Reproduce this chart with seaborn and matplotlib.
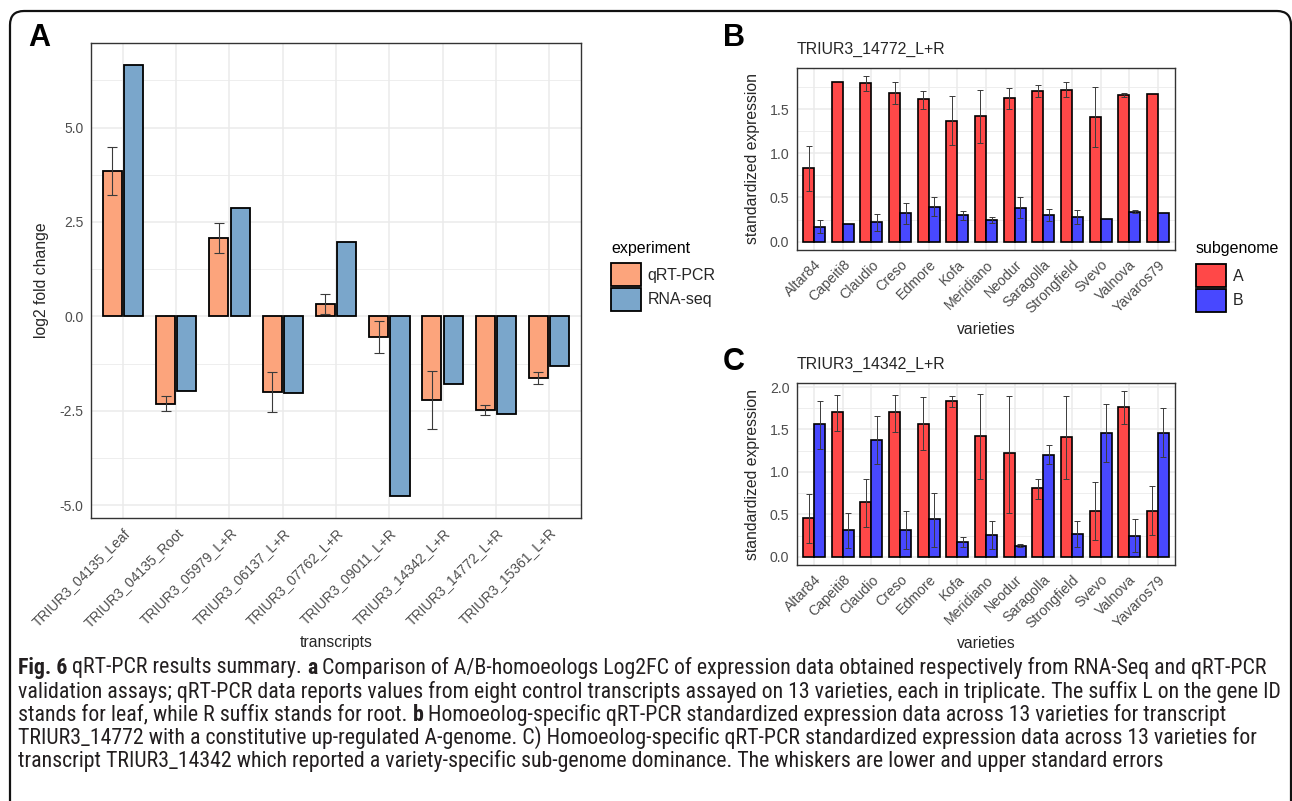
import numpy as np
import pandas as pd
import matplotlib
matplotlib.use("Agg")
import matplotlib.pyplot as plt
import seaborn as sns
from matplotlib.patches import Patch, FancyBboxPatch
from matplotlib.transforms import IdentityTransform
from matplotlib.ticker import FixedLocator
from matplotlib import font_manager
from matplotlib.font_manager import FontProperties

# ---------------- data ----------------
transcripts = ["TRIUR3_04135_Leaf", "TRIUR3_04135_Root", "TRIUR3_05979_L+R",
               "TRIUR3_06137_L+R", "TRIUR3_07762_L+R", "TRIUR3_09011_L+R",
               "TRIUR3_14342_L+R", "TRIUR3_14772_L+R", "TRIUR3_15361_L+R"]
experiments = ["qRT-PCR", "RNA-seq"]
qrt_fc = [3.85, -2.31, 2.07, -2.01, 0.34, -0.54, -2.22, -2.49, -1.64]
qrt_lo = [3.21, -2.51, 1.68, -2.54, 0.06, -0.96, -2.98, -2.62, -1.79]
qrt_hi = [4.50, -2.11, 2.47, -1.47, 0.59, -0.13, -1.46, -2.36, -1.47]
rna_fc = [6.67, -1.98, 2.87, -2.03, 1.96, -4.77, -1.78, -2.58, -1.32]

varieties = ["Altar84", "Capeiti8", "Claudio", "Creso", "Edmore", "Kofa", "Meridiano",
             "Neodur", "Saragolla", "Strongfield", "Svevo", "Valnova", "Yavaros79"]
subgenomes = ["A", "B"]

# panel B: TRIUR3_14772_L+R
b_A    = [0.83, 1.80, 1.79, 1.68, 1.61, 1.37, 1.42, 1.62, 1.70, 1.71, 1.41, 1.66, 1.67]
b_A_lo = [0.57, np.nan, 1.70, 1.56, 1.50, 1.09, 1.12, 1.50, 1.635, 1.635, 1.07, 1.64, np.nan]
b_A_hi = [1.08, np.nan, 1.87, 1.80, 1.70, 1.65, 1.71, 1.74, 1.77, 1.80, 1.75, 1.68, np.nan]
b_B    = [0.17, 0.195, 0.22, 0.32, 0.395, 0.30, 0.25, 0.38, 0.30, 0.28, 0.255, 0.34, 0.325]
b_B_lo = [0.10, np.nan, 0.12, 0.195, 0.29, 0.245, 0.21, 0.265, 0.235, 0.205, np.nan, 0.32, np.nan]
b_B_hi = [0.25, np.nan, 0.31, 0.44, 0.50, 0.35, 0.28, 0.50, 0.365, 0.36, np.nan, 0.36, np.nan]

# panel C: TRIUR3_14342_L+R
c_A    = [0.46, 1.70, 0.64, 1.70, 1.57, 1.84, 1.42, 1.22, 0.81, 1.41, 0.54, 1.76, 0.54]
c_A_lo = [0.16, 1.48, 0.35, 1.47, 1.26, 1.77, 0.92, 0.52, 0.68, 0.92, 0.20, 1.56, 0.26]
c_A_hi = [0.74, 1.91, 0.92, 1.91, 1.88, 1.90, 1.92, 1.90, 0.92, 1.89, 0.88, 1.95, 0.83]
c_B    = [1.56, 0.31, 1.38, 0.32, 0.44, 0.17, 0.26, 0.13, 1.20, 0.27, 1.46, 0.25, 1.46]
c_B_lo = [1.27, 0.10, 1.09, 0.09, 0.12, 0.12, 0.09, 0.11, 1.09, 0.12, 1.12, 0.055, 1.18]
c_B_hi = [1.84, 0.52, 1.66, 0.54, 0.75, 0.23, 0.42, 0.15, 1.32, 0.42, 1.80, 0.44, 1.75]

# ---------------- style ----------------
sns.set_style("white")
plt.rcParams['font.family'] = ['Liberation Sans', 'DejaVu Sans']

W, H = 1292, 801
fig = plt.figure(figsize=(W / 100, H / 100), dpi=100)


def fx(x):
    return x / W


def fy(y):
    return 1 - y / H


def add_axes_px(left, top, right, bottom):
    return fig.add_axes([fx(left), fy(bottom), (right - left) / W, (bottom - top) / H])


GRID = "#EBEBEB"
DARK = "#333333"
TICKC = "#4D4D4D"


def style_axes(ax, yticks, ylabels, minors, ticksize):
    for s in ax.spines.values():
        s.set_color(DARK)
        s.set_linewidth(1.0)
    ax.set_yticks(yticks)
    ax.set_yticklabels(ylabels)
    ax.yaxis.set_minor_locator(FixedLocator(minors))
    ax.set_axisbelow(True)
    ax.grid(which="major", color=GRID, linewidth=1.1)
    ax.grid(which="minor", axis="y", color=GRID, linewidth=0.6)
    ax.tick_params(which="major", length=3.5, width=0.9, color=DARK,
                   labelcolor=TICKC, labelsize=ticksize, pad=2)
    ax.tick_params(which="minor", length=0)
    for lab in ax.get_xticklabels():
        lab.set_rotation(45)
        lab.set_ha("right")
        lab.set_va("top")
        lab.set_rotation_mode("anchor")


def add_errorbars(ax, values_list, lo_list, hi_list, capsize, lw):
    for cont, vals, lo, hi in zip(ax.containers, values_list, lo_list, hi_list):
        xs, ys, el, eh = [], [], [], []
        for p, v, l, h in zip(cont.patches, vals, lo, hi):
            if np.isnan(l) or np.isnan(h):
                continue
            xs.append(p.get_x() + p.get_width() / 2)
            ys.append(v)
            el.append(v - l)
            eh.append(h - v)
        ax.errorbar(xs, ys, yerr=[el, eh], fmt="none", ecolor="#3a3a3a",
                    elinewidth=lw, capsize=capsize, capthick=lw, zorder=5)


def gg_ylim(values):
    arr = np.array([v for v in values if not np.isnan(v)] + [0.0])
    lo, hi = arr.min(), arr.max()
    r = hi - lo
    return lo - 0.05 * r, hi + 0.05 * r


def place_labels(ax, top, bottom, left, xlab_y, ylab_x, xlabel, ylabel, size):
    ax.set_xlabel(xlabel, fontsize=size)
    ax.set_ylabel(ylabel, fontsize=size)
    ax.xaxis.set_label_coords(0.5, (bottom - xlab_y) / (bottom - top))
    ax.xaxis.label.set_va("center")
    ax.yaxis.set_label_coords((ylab_x - left) / (ax.get_position().width * W), 0.5)
    ax.yaxis.label.set_va("center")


def gg_legend(title, labels, colors, x, title_y, keys_top):
    fig.text(fx(x), fy(title_y), title, fontsize=11.5, ha="left", va="center", color="black")
    handles = [Patch(facecolor=c, edgecolor="black", linewidth=1.3) for c in colors]
    fig.legend(handles, labels, loc="upper left", bbox_to_anchor=(fx(x), fy(keys_top)),
               frameon=False, handlelength=1.85, handleheight=1.85,
               labelspacing=0.1, handletextpad=0.45, borderpad=0, borderaxespad=0,
               fontsize=11.5)


# ---------------- Panel A ----------------
A_L, A_T, A_R, A_B = 91, 43, 581, 518
axA = add_axes_px(A_L, A_T, A_R, A_B)
dfA = pd.DataFrame({
    "transcript": transcripts * 2,
    "experiment": [experiments[0]] * len(transcripts) + [experiments[1]] * len(transcripts),
    "value": qrt_fc + rna_fc,
})
palA = {"qRT-PCR": "#FCA47C", "RNA-seq": "#7AA6CB"}
sns.barplot(data=dfA, x="transcript", y="value", hue="experiment", order=transcripts,
            hue_order=experiments, palette=palA, width=0.8, gap=0.1, saturation=1,
            edgecolor="black", linewidth=1.3, errorbar=None, legend=False, ax=axA)
add_errorbars(axA, [qrt_fc], [qrt_lo], [qrt_hi], capsize=3.6, lw=0.8)
axA.set_xlim(-0.6, len(transcripts) - 0.4)
axA.set_ylim(*gg_ylim(qrt_fc + rna_fc + qrt_lo + qrt_hi))
style_axes(axA, [-5, -2.5, 0, 2.5, 5], ["-5.0", "-2.5", "0.0", "2.5", "5.0"],
           [-3.75, -1.25, 1.25, 3.75, 6.25], 10)
place_labels(axA, A_T, A_B, A_L, 643, 42, "transcripts", "log2 fold change", 11.3)

gg_legend("experiment", experiments, [palA[e] for e in experiments], 611, 249, 263)

# ---------------- Panels B and C ----------------
palBC = {"A": "#FF4848", "B": "#4848FF"}
S_L, S_R = 797, 1175


def sub_panel(top, bottom, xlab_y, A, A_lo, A_hi, B, B_lo, B_hi, yt, yl, ym):
    ax = add_axes_px(S_L, top, S_R, bottom)
    df = pd.DataFrame({
        "variety": varieties * 2,
        "subgenome": ["A"] * len(varieties) + ["B"] * len(varieties),
        "value": A + B,
    })
    sns.barplot(data=df, x="variety", y="value", hue="subgenome", order=varieties,
                hue_order=subgenomes, palette=palBC, width=0.77, saturation=1,
                edgecolor="black", linewidth=1.2, errorbar=None, legend=False, ax=ax)
    add_errorbars(ax, [A, B], [A_lo, B_lo], [A_hi, B_hi], capsize=2.2, lw=0.7)
    ax.set_xlim(-0.6, len(varieties) - 0.4)
    ax.set_ylim(*gg_ylim(A + B + A_lo + A_hi + B_lo + B_hi))
    style_axes(ax, yt, yl, ym, 10.2)
    place_labels(ax, top, bottom, S_L, xlab_y, 753, "varieties", "standardized expression", 11.3)
    return ax


axB = sub_panel(68, 250, 329, b_A, b_A_lo, b_A_hi, b_B, b_B_lo, b_B_hi,
                [0, 0.5, 1.0, 1.5], ["0.0", "0.5", "1.0", "1.5"], [0.25, 0.75, 1.25, 1.75])
axB.set_title("TRIUR3_14772_L+R", loc="left", fontsize=11.4, pad=10)

axC = sub_panel(383, 565, 643, c_A, c_A_lo, c_A_hi, c_B, c_B_lo, c_B_hi,
                [0, 0.5, 1.0, 1.5, 2.0], ["0.0", "0.5", "1.0", "1.5", "2.0"],
                [0.25, 0.75, 1.25, 1.75])
axC.set_title("TRIUR3_14342_L+R", loc="left", fontsize=11.4, pad=10)

gg_legend("subgenome", subgenomes, [palBC[s] for s in subgenomes], 1196, 249, 264)

# ---------------- panel letters ----------------
for letter, x, y in [("A", 39, 38), ("B", 734, 38), ("C", 734, 362)]:
    fig.text(fx(x), fy(y), letter, fontsize=22, fontweight="bold", ha="center",
             va="center", color="black")

# ---------------- caption ----------------
def pick_caption_fonts():
    cond = []
    for f in font_manager.fontManager.ttflist:
        st = str(f.stretch)
        if ("condensed" in st or st in ("75", "87", "62", "50")) and f.style == "normal":
            cond.append(f)
    pref = ["Liberation Sans Narrow", "Roboto Condensed", "Open Sans Condensed",
            "Noto Sans", "DejaVu Sans", "Open Sans"]
    for name in pref:
        regs = [f for f in cond if f.name == name and str(f.weight) in ("400", "normal", "regular")]
        bolds = [f for f in cond if f.name == name and str(f.weight) in ("700", "bold")]
        if regs and bolds:
            return FontProperties(fname=regs[0].fname), FontProperties(fname=bolds[0].fname)
    return (FontProperties(family="Liberation Sans"),
            FontProperties(family="Liberation Sans", weight="bold"))


fp_reg, fp_bold = pick_caption_fonts()

caption = [
    [("Fig. 6", True), (" qRT-PCR results summary. ", False), ("a", True),
     (" Comparison of A/B-homoeologs Log2FC of expression data obtained respectively from RNA-Seq and qRT-PCR", False)],
    [("validation assays; qRT-PCR data reports values from eight control transcripts assayed on 13 varieties, each in triplicate. The suffix L on the gene ID", False)],
    [("stands for leaf, while R suffix stands for root. ", False), ("b", True),
     (" Homoeolog-specific qRT-PCR standardized expression data across 13 varieties for transcript", False)],
    [("TRIUR3_14772 with a constitutive up-regulated A-genome. C) Homoeolog-specific qRT-PCR standardized expression data across 13 varieties for", False)],
    [("transcript TRIUR3_14342 which reported a variety-specific sub-genome dominance. The whiskers are lower and upper standard errors", False)],
]

renderer = fig.canvas.get_renderer()


def fp_for(bold, size):
    fp = (fp_bold if bold else fp_reg).copy()
    fp.set_size(size)
    return fp


def seg_width(txt, bold, size):
    t = fig.text(0, 0, txt.replace(" ", "\u00a0"), fontproperties=fp_for(bold, size))
    w = t.get_window_extent(renderer).width
    t.remove()
    return w


base = 10.0
w1 = sum(seg_width(t, b, base) for t, b in caption[0])
cap_size = base * 1245.0 / w1

ys = [668, 692, 715, 738, 761]
for line, y in zip(caption, ys):
    x = 18
    for txt, bold in line:
        fig.text(fx(x), fy(y), txt, fontproperties=fp_for(bold, cap_size),
                 ha="left", va="center", color="#231F20")
        x += seg_width(txt, bold, cap_size)

# ---------------- outer frame ----------------
frame = FancyBboxPatch((10, -40), 1281, H - 10 + 40 - 1,
                       boxstyle="round,pad=0,rounding_size=14",
                       transform=IdentityTransform(), facecolor="none",
                       edgecolor="#111111", linewidth=1.6)
fig.patches.append(frame)

fig.savefig("out.png", dpi=100)
